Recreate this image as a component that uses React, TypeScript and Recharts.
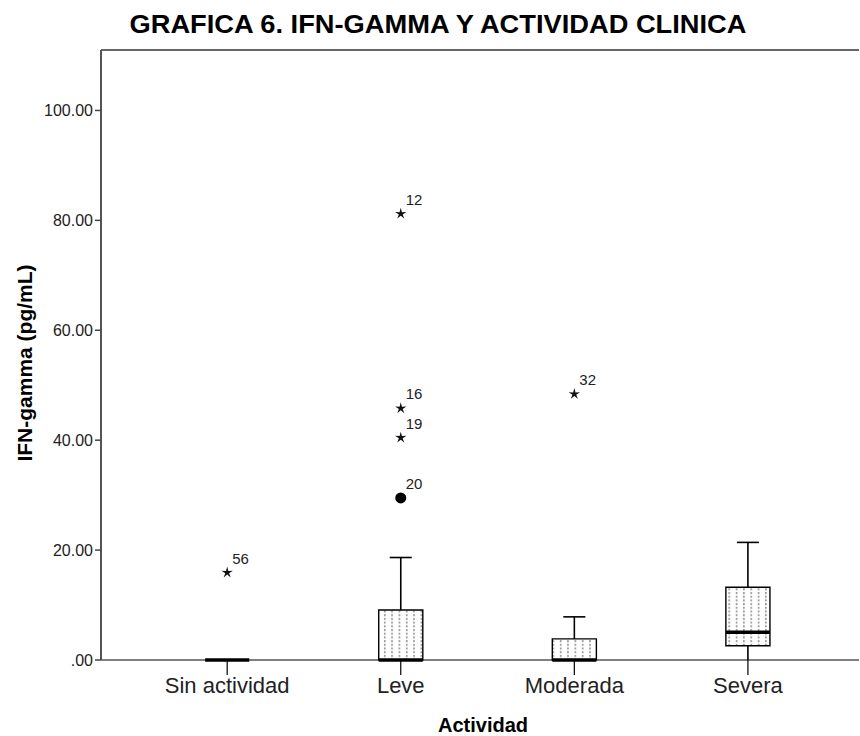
import React from "react"
import {
  ComposedChart,
  XAxis,
  YAxis,
  Scatter,
  ReferenceArea,
  ReferenceLine,
} from "recharts"

// boxplot summary per category (IFN-gamma pg/mL)
const categories = ["Sin actividad", "Leve", "Moderada", "Severa"]
const lowerWhisker = [0, 0, 0, 0]
const q1 = [0, 0, 0, 2.6]
const medians = [0, 0, 0, 5.05]
const q3 = [0, 9.1, 3.85, 13.25]
const upperWhisker = [0, 18.65, 7.85, 21.4]

// outliers: group index, value, case number, extreme (star) or not (circle)
const outlierGroup = [0, 1, 1, 1, 1, 2]
const outlierValue = [15.9, 81.2, 45.8, 40.45, 29.5, 48.4]
const outlierCase = ["56", "12", "16", "19", "20", "32"]
const outlierExtreme = [true, true, true, true, false, true]

const yTicks = [0, 20, 40, 60, 80, 100]

const FONT = '"Liberation Sans", Arial, sans-serif'
const BOX_HALF = 0.127
const CAP_HALF = 0.0635

const outliers = outlierValue.map((v, i) => ({
  x: outlierGroup[i],
  y: v,
  caseId: outlierCase[i],
  extreme: outlierExtreme[i],
}))

function starPath(cx: number, cy: number, R: number, r: number) {
  let d = ""
  for (let k = 0; k < 10; k++) {
    const rad = k % 2 === 0 ? R : r
    const a = -Math.PI / 2 + (k * Math.PI) / 5
    d += (k === 0 ? "M" : "L") + (cx + rad * Math.cos(a)).toFixed(2) + "," + (cy + rad * Math.sin(a)).toFixed(2)
  }
  return d + "Z"
}

const OutlierShape = (props: any) => {
  const { cx, cy, payload } = props
  return (
    <g>
      {payload.extreme ? (
        <path d={starPath(cx, cy, 6, 2)} fill="#111" />
      ) : (
        <circle cx={cx} cy={cy} r={5.5} fill="#000" />
      )}
      <text x={cx + 5} y={cy - 9} fontSize={15} fontFamily={FONT} fill="#222">
        {payload.caseId}
      </text>
    </g>
  )
}

export default function App() {
  return (
    <div style={{ position: "absolute", left: 0, top: 0, width: 860, height: 736, background: "#fff" }}>
      <svg width={860} height={736} style={{ position: "absolute", left: 0, top: 0 }}>
        <defs>
          <pattern id="dots" patternUnits="userSpaceOnUse" width={7.33} height={3.7}>
            <line x1={3.6} y1={0} x2={3.6} y2={2} stroke="#555" strokeWidth={1} />
          </pattern>
        </defs>
        <text
          x={438}
          y={33}
          textAnchor="middle"
          fontSize={25}
          fontWeight="bold"
          fontFamily={FONT}
          fill="#000"
          textLength={617}
          lengthAdjust="spacingAndGlyphs"
        >
          GRAFICA 6. IFN-GAMMA Y ACTIVIDAD CLINICA
        </text>
      </svg>
      <div style={{ position: "absolute", left: 0, top: 0 }}>
        <ComposedChart width={860} height={736} margin={{ top: 50, right: 1, bottom: 0, left: 0 }}>
          <XAxis
            type="number"
            dataKey="x"
            domain={[-0.727, 3.64]}
            ticks={[0, 1, 2, 3]}
            allowDataOverflow
            tickFormatter={(i: number) => categories[i]}
            height={76}
            tickSize={15}
            tickLine={{ stroke: "#000", strokeWidth: 1.2 }}
            axisLine={{ stroke: "#000", strokeWidth: 1.2 }}
            tick={{ fontSize: 22, fontFamily: FONT, fill: "#222" }}
            label={() => (
              <text x={483} y={732} textAnchor="middle" fontSize={20} fontWeight="bold" fontFamily={FONT} fill="#000">
                Actividad
              </text>
            )}
          />
          <YAxis
            type="number"
            dataKey="y"
            domain={[0, 111]}
            ticks={yTicks}
            allowDataOverflow
            width={101}
            tickSize={6}
            tickFormatter={(v: number) => (v === 0 ? ".00" : v.toFixed(2))}
            tickLine={{ stroke: "#444", strokeWidth: 1.5 }}
            axisLine={{ stroke: "#555", strokeWidth: 2 }}
            tick={{ fontSize: 16, fontFamily: FONT, fill: "#222" }}
            label={() => (
              <text
                x={32}
                y={363}
                transform="rotate(-90, 32, 363)"
                textAnchor="middle"
                fontSize={21}
                fontWeight="bold"
                fontFamily={FONT}
                fill="#000"
              >
                IFN-gamma (pg/mL)
              </text>
            )}
          />
          <ReferenceLine y={111} stroke="#666" strokeWidth={2} />

          {categories.map((c, i) =>
            upperWhisker[i] > q3[i] ? (
              <ReferenceLine
                key={"uw" + c}
                segment={[{ x: i, y: q3[i] }, { x: i, y: upperWhisker[i] }]}
                stroke="#000"
                strokeWidth={1.6}
              />
            ) : null
          )}
          {categories.map((c, i) =>
            upperWhisker[i] > q3[i] ? (
              <ReferenceLine
                key={"uc" + c}
                segment={[{ x: i - CAP_HALF, y: upperWhisker[i] }, { x: i + CAP_HALF, y: upperWhisker[i] }]}
                stroke="#000"
                strokeWidth={1.6}
              />
            ) : null
          )}
          {categories.map((c, i) =>
            lowerWhisker[i] < q1[i] ? (
              <ReferenceLine
                key={"lw" + c}
                segment={[{ x: i, y: lowerWhisker[i] }, { x: i, y: q1[i] }]}
                stroke="#000"
                strokeWidth={1.6}
              />
            ) : null
          )}
          {categories.map((c, i) => (
            <ReferenceArea
              key={"box" + c}
              x1={i - BOX_HALF}
              x2={i + BOX_HALF}
              y1={q1[i]}
              y2={q3[i]}
              fill="url(#dots)"
              fillOpacity={1}
              stroke="#000"
              strokeWidth={1.4}
            />
          ))}
          {categories.map((c, i) => (
            <ReferenceLine
              key={"med" + c}
              segment={[{ x: i - BOX_HALF, y: medians[i] }, { x: i + BOX_HALF, y: medians[i] }]}
              stroke="#000"
              strokeWidth={3.6}
            />
          ))}

          <Scatter data={outliers} dataKey="y" shape={OutlierShape} isAnimationActive={false} />
        </ComposedChart>
      </div>
    </div>
  )
}
